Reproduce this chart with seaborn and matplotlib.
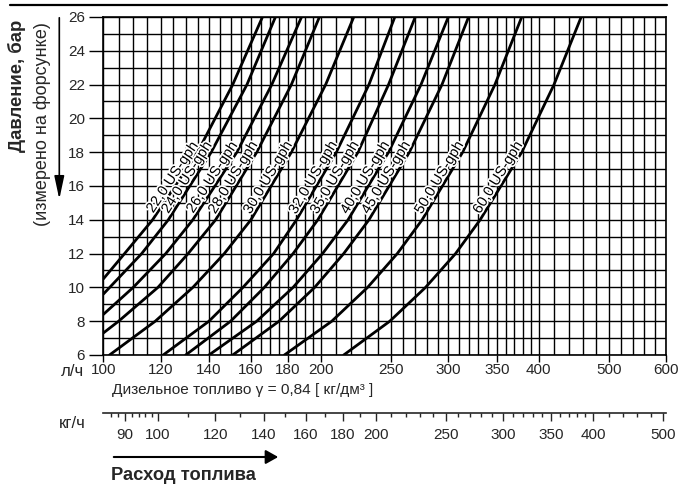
import numpy as np
import pandas as pd
import matplotlib
matplotlib.use("Agg")
import matplotlib.pyplot as plt
import matplotlib.patheffects as pe
from matplotlib.ticker import FixedLocator, NullFormatter, FixedFormatter
from matplotlib.lines import Line2D
import seaborn as sns

sns.set_style("white")
plt.rcParams["font.family"] = ["Liberation Sans", "DejaVu Sans"]

# Nozzle characteristics: pressure (bar) vs. fuel flow (l/h)
nozzle_sizes = ["22,0", "24,0", "26,0", "28,0", "30,0", "32,0", "35,0", "40,0", "45,0", "50,0", "60,0"]

p_22 = [10.5, 12, 14, 18, 22, 26]
q_22 = [100, 107, 117, 135, 151, 166]
p_24 = [9.6, 12, 14, 18, 22, 26]
q_24 = [100, 113, 123, 141, 158, 173]
p_26 = [8.4, 10, 12, 14, 18, 22, 26]
q_26 = [100, 110, 122, 133, 153, 171, 188]
p_28 = [7.3, 8, 10, 12, 14, 18, 22, 26]
q_28 = [100, 105, 119, 131, 143, 163, 182, 199]

p_std = [6, 8, 10, 12, 14, 18, 22, 26]
q_30 = [102, 118, 133, 147, 160, 182, 203, 222]
q_32 = [121, 140, 156, 172, 185, 210, 233, 253]
q_35 = [130, 150, 167, 183, 198, 225, 248, 270]
q_40 = [140, 163, 183, 201, 218, 248, 275, 300]
q_45 = [151, 175, 196, 215, 233, 265, 294, 320]
q_50 = [178, 207, 232, 255, 276, 314, 348, 379]
q_60 = [215, 249, 279, 307, 332, 379, 420, 458]

flow_ticks = [100, 120, 140, 160, 180, 200, 250, 300, 350, 400, 500, 600]
pressure_ticks = [6, 8, 10, 12, 14, 16, 18, 20, 22, 24, 26]
mass_ticks = [90, 100, 120, 140, 160, 180, 200, 250, 300, 350, 400, 500]
density = 0.84

curves = {
    "22,0": (p_22, q_22), "24,0": (p_24, q_24), "26,0": (p_26, q_26), "28,0": (p_28, q_28),
    "30,0": (p_std, q_30), "32,0": (p_std, q_32), "35,0": (p_std, q_35), "40,0": (p_std, q_40),
    "45,0": (p_std, q_45), "50,0": (p_std, q_50), "60,0": (p_std, q_60),
}
rows = []
for name in nozzle_sizes:
    ps, qs = curves[name]
    for p, q in zip(ps, qs):
        rows.append({"nozzle": name, "pressure": p, "flow": q})
df = pd.DataFrame(rows)

W, H = 681, 488
fig = plt.figure(figsize=(W / 100, H / 100), dpi=100)

def fx(px):
    return px / W

def fy(py):
    return 1 - py / H

x0, x1, y0, y1 = 103.3, 666.0, 17.0, 355.0
ax = fig.add_axes([fx(x0), fy(y1), fx(x1) - fx(x0), fy(y0) - fy(y1)])
ax.set_xscale("log")
ax.set_xlim(100, 600)
ax.set_ylim(6, 26)

# grid
grid_x = list(range(100, 200, 5)) + list(range(200, 400, 10)) + list(range(400, 601, 20))
ax.xaxis.set_major_locator(FixedLocator(flow_ticks))
ax.xaxis.set_major_formatter(FixedFormatter([str(v) for v in flow_ticks]))
ax.xaxis.set_minor_locator(FixedLocator([g for g in grid_x if g not in flow_ticks]))
ax.xaxis.set_minor_formatter(NullFormatter())
ax.yaxis.set_major_locator(FixedLocator(pressure_ticks))
ax.yaxis.set_minor_locator(FixedLocator(list(range(7, 26, 2))))
ax.grid(which="both", color="black", lw=1.0)
ax.set_axisbelow(True)
ax.tick_params(which="major", direction="out", bottom=True, left=True, length=5,
               width=1.0, color="black", labelsize=11, pad=1)
ax.tick_params(axis="y", which="major", length=10, pad=3)
ax.tick_params(which="minor", length=0)
for s in ax.spines.values():
    s.set_color("black")
    s.set_linewidth(1.2)

sns.lineplot(data=df, x="flow", y="pressure", units="nozzle", estimator=None,
             sort=False, color="black", lw=2.0, ax=ax, zorder=3)
ax.set_xlabel("")
ax.set_ylabel("")

# curve labels along each line
label_p = 16.3
for name in nozzle_sizes:
    ps, qs = curves[name]
    lq = np.log10(qs)
    qa = 10 ** np.interp(label_p, ps, lq)
    qb = 10 ** np.interp(label_p - 0.6, ps, lq)
    qc = 10 ** np.interp(label_p + 0.6, ps, lq)
    pb = ax.transData.transform((qb, label_p - 0.6))
    pc = ax.transData.transform((qc, label_p + 0.6))
    ang = np.degrees(np.arctan2(pc[1] - pb[1], pc[0] - pb[0]))
    ax.text(qa, label_p, f"{name} US-gph", rotation=ang, rotation_mode="anchor",
            ha="center", va="bottom", fontsize=10.5, color="black", zorder=4,
            path_effects=[pe.withStroke(linewidth=2.5, foreground="white")])

# mass-flow scale
ax2 = fig.add_axes([fx(x0), fy(412.7), fx(x1) - fx(x0), 0.0001])
ax2.set_xscale("log")
ax2.set_xlim(100 * density, 600 * density)
ax2.set_yticks([])
for side in ["left", "right", "top"]:
    ax2.spines[side].set_visible(False)
ax2.spines["bottom"].set_linewidth(1.2)
mass_minor = list(range(86, 100, 2)) + list(range(110, 400, 10)) + list(range(420, 500, 20))
ax2.xaxis.set_major_locator(FixedLocator(mass_ticks))
ax2.xaxis.set_major_formatter(FixedFormatter([str(v) for v in mass_ticks]))
ax2.xaxis.set_minor_locator(FixedLocator([m for m in mass_minor if m not in mass_ticks]))
ax2.xaxis.set_minor_formatter(NullFormatter())
ax2.tick_params(which="major", direction="out", bottom=True, length=6, width=1.0,
                labelsize=11, pad=5)
ax2.tick_params(which="minor", direction="out", bottom=True, length=3, width=1.0)

# annotations
fig.add_artist(Line2D([fx(10), fx(667)], [fy(5), fy(5)], color="black", lw=1.6))
fig.text(fx(17), fy(20), "Давление, бар", rotation=90, ha="center", va="top",
         fontsize=13.3, fontweight="bold")
fig.text(fx(42), fy(22), "(измерено на форсунке)", rotation=90, ha="center", va="top",
         fontsize=13)
fig.add_artist(matplotlib.patches.FancyArrowPatch(
    (fx(59.3), fy(15)), (fx(59.3), fy(202)), transform=fig.transFigure,
    arrowstyle="-|>,head_length=1.4,head_width=0.3", mutation_scale=10,
    color="black", lw=1.2))
fig.text(fx(72), fy(371), "л/ч", ha="center", va="center", fontsize=12)
fig.text(fx(72), fy(423), "кг/ч", ha="center", va="center", fontsize=12)
fig.text(fx(112), fy(390), "Дизельное топливо γ = 0,84 [ кг/дм³ ]", ha="left",
         va="center", fontsize=11.1)
fig.add_artist(matplotlib.patches.FancyArrowPatch(
    (fx(111), fy(457)), (fx(281), fy(457)), transform=fig.transFigure,
    arrowstyle="-|>,head_length=0.75,head_width=0.42", mutation_scale=10,
    color="black", lw=1.5))
fig.text(fx(111), fy(476), "Расход топлива", ha="left", va="center",
         fontsize=13.2, fontweight="bold")

fig.savefig("out.png", dpi=100)
